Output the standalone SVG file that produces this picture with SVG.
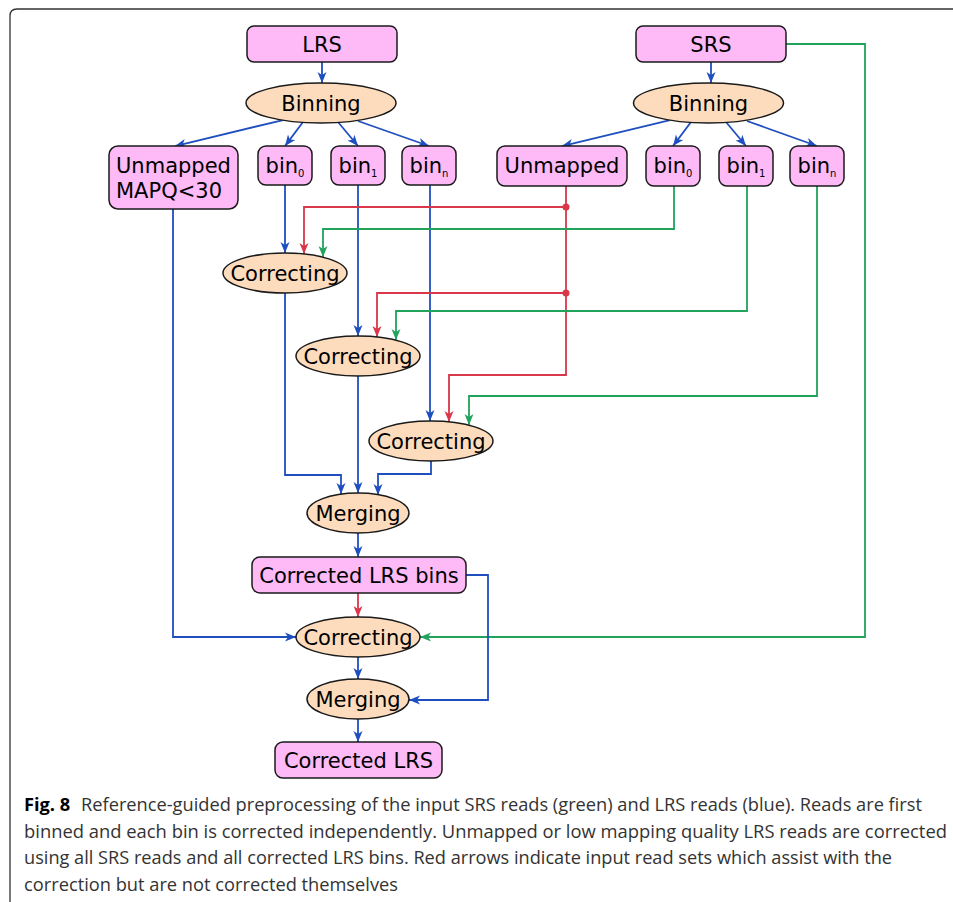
<svg xmlns="http://www.w3.org/2000/svg" width="953" height="902" viewBox="0 0 953 902">
<style>
.box{fill:#fdbaf6;stroke:#1a1a1a;stroke-width:1.5}
.ell{fill:#fddcbd;stroke:#1a1a1a;stroke-width:1.5}
.lbl{font-family:"DejaVu Sans",sans-serif;font-size:21px;fill:#000;text-anchor:middle}
.sub{font-size:10px}
.b{fill:none;stroke:#1f4fbf;stroke-width:1.8}
.r{fill:none;stroke:#d9374a;stroke-width:1.8}
.g{fill:none;stroke:#21a35c;stroke-width:1.8}
.cap{font-family:"Open Sans","Noto Sans",sans-serif;font-size:18px;fill:#333}
</style>
<defs>
<marker id="ab" viewBox="-1 -6 13 12" refX="11" refY="0" markerWidth="13" markerHeight="12" markerUnits="userSpaceOnUse" orient="auto"><path d="M0,-4.5 L11,0 L0,4.5 L3,0 z" fill="#1f4fbf"/></marker>
<marker id="ar" viewBox="-1 -6 13 12" refX="11" refY="0" markerWidth="13" markerHeight="12" markerUnits="userSpaceOnUse" orient="auto"><path d="M0,-4.5 L11,0 L0,4.5 L3,0 z" fill="#d9374a"/></marker>
<marker id="ag" viewBox="-1 -6 13 12" refX="11" refY="0" markerWidth="13" markerHeight="12" markerUnits="userSpaceOnUse" orient="auto"><path d="M0,-4.5 L11,0 L0,4.5 L3,0 z" fill="#21a35c"/></marker>
</defs>
<rect width="953" height="902" fill="#fff"/>
<path d="M10,902 L10,16 Q10,9 17,9 L953,9" fill="none" stroke="#333" stroke-width="1.3"/>

<g id="connectors">
<path class="b" marker-end="url(#ab)" d="M322,62 L322,83"/>
<path class="b" marker-end="url(#ab)" d="M711,62 L711,83"/>
<path class="b" marker-end="url(#ab)" d="M283,120 L175,146"/>
<path class="b" marker-end="url(#ab)" d="M303,122 L285,146"/>
<path class="b" marker-end="url(#ab)" d="M338,122 L358,146"/>
<path class="b" marker-end="url(#ab)" d="M358,121 L429,146"/>
<path class="b" marker-end="url(#ab)" d="M670,120 L562,146"/>
<path class="b" marker-end="url(#ab)" d="M691,122 L673,146"/>
<path class="b" marker-end="url(#ab)" d="M726,122 L746,146"/>
<path class="b" marker-end="url(#ab)" d="M747,121 L817,146"/>

<path class="b" marker-end="url(#ab)" d="M285,185 L285,253"/>
<path class="b" marker-end="url(#ab)" d="M358,185 L358,336"/>
<path class="b" marker-end="url(#ab)" d="M430,185 L430,421"/>

<path class="r" d="M566,186 L566,375 L449,375 L449,422" marker-end="url(#ar)"/>
<path class="r" marker-end="url(#ar)" d="M566,207 L304,207 L304,254"/>
<path class="r" marker-end="url(#ar)" d="M566,293 L377,293 L377,337"/>
<circle cx="566" cy="207" r="3.5" fill="#d9374a"/>
<circle cx="566" cy="293" r="3.5" fill="#d9374a"/>

<path class="g" marker-end="url(#ag)" d="M674,186 L674,229 L323,229 L323,257"/>
<path class="g" marker-end="url(#ag)" d="M747,186 L747,311 L396,311 L396,340"/>
<path class="g" marker-end="url(#ag)" d="M817,186 L817,396 L469,396 L469,425"/>

<path class="b" marker-end="url(#ab)" d="M285,293 L285,475 L341,475 L341,494"/>
<path class="b" marker-end="url(#ab)" d="M358,376 L358,493"/>
<path class="b" marker-end="url(#ab)" d="M431,461 L431,474 L378,474 L378,495"/>

<path class="b" marker-end="url(#ab)" d="M358,533 L358,557"/>
<path class="r" marker-end="url(#ar)" d="M358,593 L358,617"/>
<path class="b" marker-end="url(#ab)" d="M358,657 L358,679"/>
<path class="b" marker-end="url(#ab)" d="M358,719 L358,742"/>

<path class="b" marker-end="url(#ab)" d="M173,209 L173,637 L296,637"/>
<path class="g" marker-end="url(#ag)" d="M786,44 L865,44 L865,637 L420,637"/>
<path class="b" marker-end="url(#ab)" d="M466,575 L488,575 L488,700 L409,700"/>
</g>

<g id="lrs"><rect class="box" x="247" y="26" width="150" height="36" rx="7"/><text class="lbl" x="322" y="51.5">LRS</text></g>
<g id="srs"><rect class="box" x="636" y="26" width="150" height="36" rx="7"/><text class="lbl" x="711" y="51.5">SRS</text></g>
<g id="binning-lrs"><ellipse class="ell" cx="321" cy="103" rx="75" ry="20"/><text class="lbl" x="321" y="110.5">Binning</text></g>
<g id="binning-srs"><ellipse class="ell" cx="708.5" cy="103" rx="75" ry="20"/><text class="lbl" x="708.5" y="110.5">Binning</text></g>

<g id="unmapped-lrs"><rect class="box" x="109" y="146" width="129" height="63" rx="9"/><text class="lbl" x="116" y="172.5" style="text-anchor:start">Unmapped</text><text class="lbl" x="116" y="198" style="text-anchor:start">MAPQ&lt;30</text></g>
<g id="bin0-lrs"><rect class="box" x="258" y="146" width="54" height="39" rx="8"/><text class="lbl" x="285" y="173">bin<tspan class="sub" dy="4">0</tspan></text></g>
<g id="bin1-lrs"><rect class="box" x="331" y="146" width="54" height="39" rx="8"/><text class="lbl" x="358" y="173">bin<tspan class="sub" dy="4">1</tspan></text></g>
<g id="binn-lrs"><rect class="box" x="402" y="146" width="54" height="39" rx="8"/><text class="lbl" x="429" y="173">bin<tspan class="sub" dy="4">n</tspan></text></g>

<g id="unmapped-srs"><rect class="box" x="497" y="146" width="130" height="40" rx="8"/><text class="lbl" x="562" y="173">Unmapped</text></g>
<g id="bin0-srs"><rect class="box" x="646" y="146" width="54" height="40" rx="8"/><text class="lbl" x="673" y="173">bin<tspan class="sub" dy="4">0</tspan></text></g>
<g id="bin1-srs"><rect class="box" x="719" y="146" width="54" height="40" rx="8"/><text class="lbl" x="746" y="173">bin<tspan class="sub" dy="4">1</tspan></text></g>
<g id="binn-srs"><rect class="box" x="790" y="146" width="54" height="40" rx="8"/><text class="lbl" x="817" y="173">bin<tspan class="sub" dy="4">n</tspan></text></g>

<g id="correcting1"><ellipse class="ell" cx="285" cy="273" rx="62" ry="20"/><text class="lbl" x="285" y="280.5">Correcting</text></g>
<g id="correcting2"><ellipse class="ell" cx="358" cy="356" rx="62" ry="20"/><text class="lbl" x="358" y="363.5">Correcting</text></g>
<g id="correcting3"><ellipse class="ell" cx="431" cy="441" rx="62" ry="20"/><text class="lbl" x="431" y="448.5">Correcting</text></g>
<g id="merging1"><ellipse class="ell" cx="358" cy="513" rx="51" ry="20"/><text class="lbl" x="358" y="520.5">Merging</text></g>
<g id="corrected-bins"><rect class="box" x="252" y="557" width="214" height="36" rx="8"/><text class="lbl" x="359" y="582.5">Corrected LRS bins</text></g>
<g id="correcting4"><ellipse class="ell" cx="358" cy="637" rx="62" ry="20"/><text class="lbl" x="358" y="644.5">Correcting</text></g>
<g id="merging2"><ellipse class="ell" cx="358" cy="699" rx="51" ry="20"/><text class="lbl" x="358" y="706.5">Merging</text></g>
<g id="corrected-lrs"><rect class="box" x="275" y="742" width="167" height="36" rx="8"/><text class="lbl" x="358.5" y="767.5">Corrected LRS</text></g>

<g id="caption">
<text class="cap" x="24" y="811" textLength="898" lengthAdjust="spacingAndGlyphs"><tspan font-weight="bold" fill="#000">Fig. 8</tspan><tspan dx="6"> Reference-guided preprocessing of the input SRS reads (green) and LRS reads (blue). Reads are first</tspan></text>
<text class="cap" x="24" y="838" textLength="923" lengthAdjust="spacingAndGlyphs">binned and each bin is corrected independently. Unmapped or low mapping quality LRS reads are corrected</text>
<text class="cap" x="24" y="864" textLength="868" lengthAdjust="spacingAndGlyphs">using all SRS reads and all corrected LRS bins. Red arrows indicate input read sets which assist with the</text>
<text class="cap" x="24" y="891" textLength="374" lengthAdjust="spacingAndGlyphs">correction but are not corrected themselves</text>
</g>
</svg>
